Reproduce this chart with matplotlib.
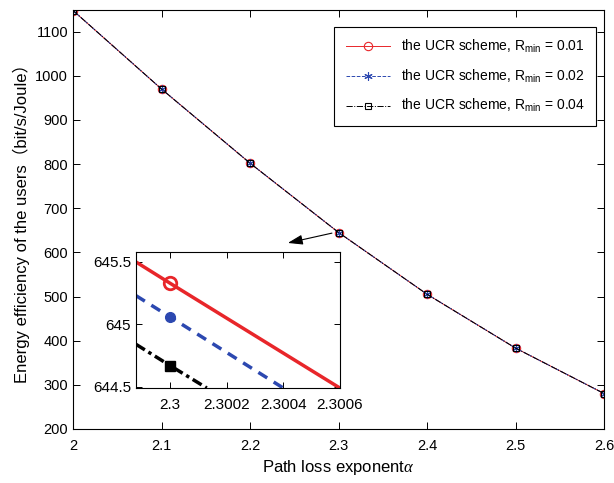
import numpy as np
import matplotlib.pyplot as plt

plt.rcParams['font.family'] = ['Liberation Sans', 'Noto Sans CJK SC', 'DejaVu Sans']
plt.rcParams['mathtext.fontset'] = 'custom'
plt.rcParams['mathtext.rm'] = 'Liberation Sans'
plt.rcParams['mathtext.it'] = 'Liberation Serif:italic'

# main curves (path loss exponent vs energy efficiency)
alpha = [2.0, 2.1, 2.2, 2.3, 2.4, 2.5, 2.6]
ee_001 = [1148, 970, 802, 645, 505, 383, 280]
ee_002 = [1148, 970, 802, 645, 505, 383, 280]
ee_004 = [1148, 970, 802, 645, 505, 383, 280]

# zoomed-in values around alpha = 2.3
zx_001 = [2.29988, 2.3, 2.3006]
zy_001 = [645.50, 645.33, 644.49]
zx_002 = [2.29988, 2.3, 2.3004]
zy_002 = [645.23, 645.06, 644.49]
zx_004 = [2.29988, 2.3, 2.30013]
zy_004 = [644.84, 644.67, 644.49]

red = '#e8262a'
blue = '#2c48b0'
asterisk = (6, 2, 0)

fig = plt.figure(figsize=(6.14, 4.83), dpi=100)
ax = fig.add_axes([0.119, 0.112, 0.865, 0.868])

ax.plot(alpha, ee_001, color=red, lw=0.7, marker='o', ms=6, mfc='none', mew=0.8,
        label=r'the UCR scheme, R$_{\rm min}$ = 0.01')
ax.plot(alpha, ee_002, color=blue, lw=0.7, ls='--', marker=asterisk, ms=6, mew=0.8,
        label=r'the UCR scheme, R$_{\rm min}$ = 0.02')
ax.plot(alpha, ee_004, color='black', lw=0.7, ls='-.', marker='s', ms=5, mfc='none', mew=0.8,
        label=r'the UCR scheme, R$_{\rm min}$ = 0.04')

ax.set_xlim(2, 2.6)
ax.set_ylim(200, 1150)
ax.set_xticks([2, 2.1, 2.2, 2.3, 2.4, 2.5, 2.6])
ax.set_xticklabels(['2', '2.1', '2.2', '2.3', '2.4', '2.5', '2.6'])
ax.set_yticks(range(200, 1101, 100))
ax.tick_params(direction='in', top=True, right=True, labelsize=10.5, length=5, width=0.7)
ax.tick_params(axis='x', pad=7)
for s in ax.spines.values():
    s.set_linewidth(0.8)
ax.set_xlabel(r'Path loss exponent$\mathit{\alpha}$', fontsize=12)
ax.set_ylabel('Energy efficiency of the users（bit/s/Joule）', fontsize=12)

leg = ax.legend(loc='upper right', fontsize=10, fancybox=False, edgecolor='black',
                framealpha=1, borderpad=0.8, labelspacing=0.9, handlelength=3.2,
                bbox_to_anchor=(0.998, 0.975))
leg.get_frame().set_linewidth(0.8)

# arrow pointing from curve to inset
ax.annotate('', xy=(2.2396, 620), xytext=(2.2955, 645),
            arrowprops=dict(arrowstyle='-|>,head_length=0.9,head_width=0.3',
                            color='black', lw=0.8))

# inset
ins = fig.add_axes([0.2215, 0.1967, 0.332, 0.2816])
ins.plot(zx_001, zy_001, color=red, lw=2.5, marker='o', ms=9, mfc='none', mew=2,
         markevery=[1])
ins.plot(zx_002, zy_002, color=blue, lw=2.5, ls=(0, (3, 2.2)), marker='o', ms=7,
         markevery=[1])
ins.plot(zx_004, zy_004, color='black', lw=2.5, ls=(0, (3, 1.2, 1, 1.2)), marker='s',
         ms=7, markevery=[1])
ins.set_xlim(2.29988, 2.3006)
ins.set_ylim(644.49, 645.58)
ins.set_xticks([2.3, 2.3002, 2.3004, 2.3006])
ins.set_xticklabels(['2.3', '2.3002', '2.3004', '2.3006'])
ins.set_yticks([644.5, 645, 645.5])
ins.set_yticklabels(['644.5', '645', '645.5'])
ins.tick_params(direction='in', top=True, right=True, labelsize=11, length=4, width=0.7)
ins.tick_params(axis='x', pad=7)
for s in ins.spines.values():
    s.set_linewidth(0.8)

fig.savefig('out.png', dpi=100)
